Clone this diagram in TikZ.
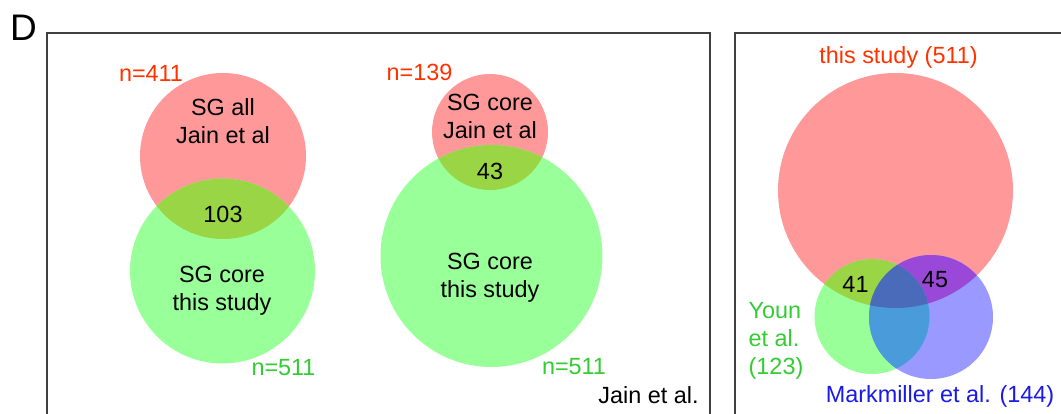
\documentclass[tikz,border=0pt]{standalone}
\usepackage{fontspec}
\setmainfont{Liberation Sans}
\definecolor{redset}{HTML}{FF9999}
\definecolor{greenset}{HTML}{99FF99}
\definecolor{blueset}{HTML}{9999FF}
\definecolor{redgreen}{HTML}{9AD545}
\definecolor{greenblue}{HTML}{4A9BDA}
\definecolor{redblue}{HTML}{9A48D8}
\definecolor{allthree}{HTML}{4A6ABA}
\definecolor{redtext}{HTML}{FF3300}
\definecolor{greentext}{HTML}{33CC33}
\definecolor{bluetext}{HTML}{1A1AE6}
\tikzset{
  frame/.style={draw=black!75,line width=1pt},
  label/.style={inner sep=0pt,font=\fontsize{11.7}{14}\selectfont,align=center},
  count/.style={label,text=black}
}
\begin{document}
\begin{tikzpicture}[x=0.5pt,y=-0.5pt]
        \useasboundingbox (0,0) rectangle (1061,413);
        \fill[white] (0,0) rectangle (1061,413);
        % the two frames
        \draw[frame] (47,33) rectangle (710,440);
        \draw[frame] (735,33) rectangle (1090,440);
        \node[inner sep=0pt,font=\fontsize{18.5}{20}\selectfont] (panel) at (23.5,27.5) {D};
        % centres of the sets
        \coordinate (allJain) at (223,156);
        \coordinate (coreOne) at (222.5,271);
        \coordinate (coreJain) at (490,132);
        \coordinate (coreTwo) at (491.5,256);
        \coordinate (study) at (895.5,190.5);
        \coordinate (youn) at (872,316.5);
        \coordinate (mark) at (931,317);
        % first venn
        \fill[redset] (allJain) circle (41.5pt);
        \fill[greenset] (coreOne) circle (46.25pt);
        \begin{scope}
            \clip (allJain) circle (41.5pt);
            \fill[redgreen] (coreOne) circle (46.25pt);
        \end{scope}
        % second venn
        \fill[redset] (coreJain) circle (29pt);
        \fill[greenset] (coreTwo) circle (55.5pt);
        \begin{scope}
            \clip (coreJain) circle (29pt);
            \fill[redgreen] (coreTwo) circle (55.5pt);
        \end{scope}
        % three sets
        \fill[redset] (study) circle (58.75pt);
        \fill[greenset] (youn) circle (28.75pt);
        \fill[blueset] (mark) circle (31pt);
        \begin{scope}
            \clip (study) circle (58.75pt);
            \fill[redgreen] (youn) circle (28.75pt);
            \fill[redblue] (mark) circle (31pt);
        \end{scope}
        \begin{scope}
            \clip (youn) circle (28.75pt);
            \fill[greenblue] (mark) circle (31pt);
            \clip (study) circle (58.75pt);
            \fill[allthree] (mark) circle (31pt);
        \end{scope}
        % labels
        \node[label,text=redtext] (nAll) at (151,73) {n=411};
        \node[label] (allText) at (223,121) {SG all\\Jain et al};
        \node[count] (overOne) at (223,214) {103};
        \node[label] (coreOneText) at (222,291) {SG core\\this study};
        \node[label,text=greentext] (nCoreOne) at (283.5,368) {n=511};
        \node[label,text=redtext] (nCoreJain) at (419.5,72.5) {n=139};
        \node[label] (coreJainText) at (490,116) {SG core\\Jain et al};
        \node[count] (overTwo) at (490,171.5) {43};
        \node[label] (coreTwoText) at (490,277.5) {SG core\\this study};
        \node[label,text=greentext] (nCoreTwo) at (574,366.5) {n=511};
        \node[label] (source) at (648.5,395.5) {Jain et al.};
        \node[label,text=redtext] (studyText) at (898.5,57.5) {this study (511)};
        \node[count] (overYoun) at (855.5,284.5) {41};
        \node[count] (overMark) at (935,279.5) {45};
        \node[label,align=left,text=greentext] (younText) at (776,341) {Youn\\et al.\\(123)};
        \node[label,text=bluetext] (markText) at (940,396) {Markmiller et al. (144)};
    \end{tikzpicture}
\end{document}
